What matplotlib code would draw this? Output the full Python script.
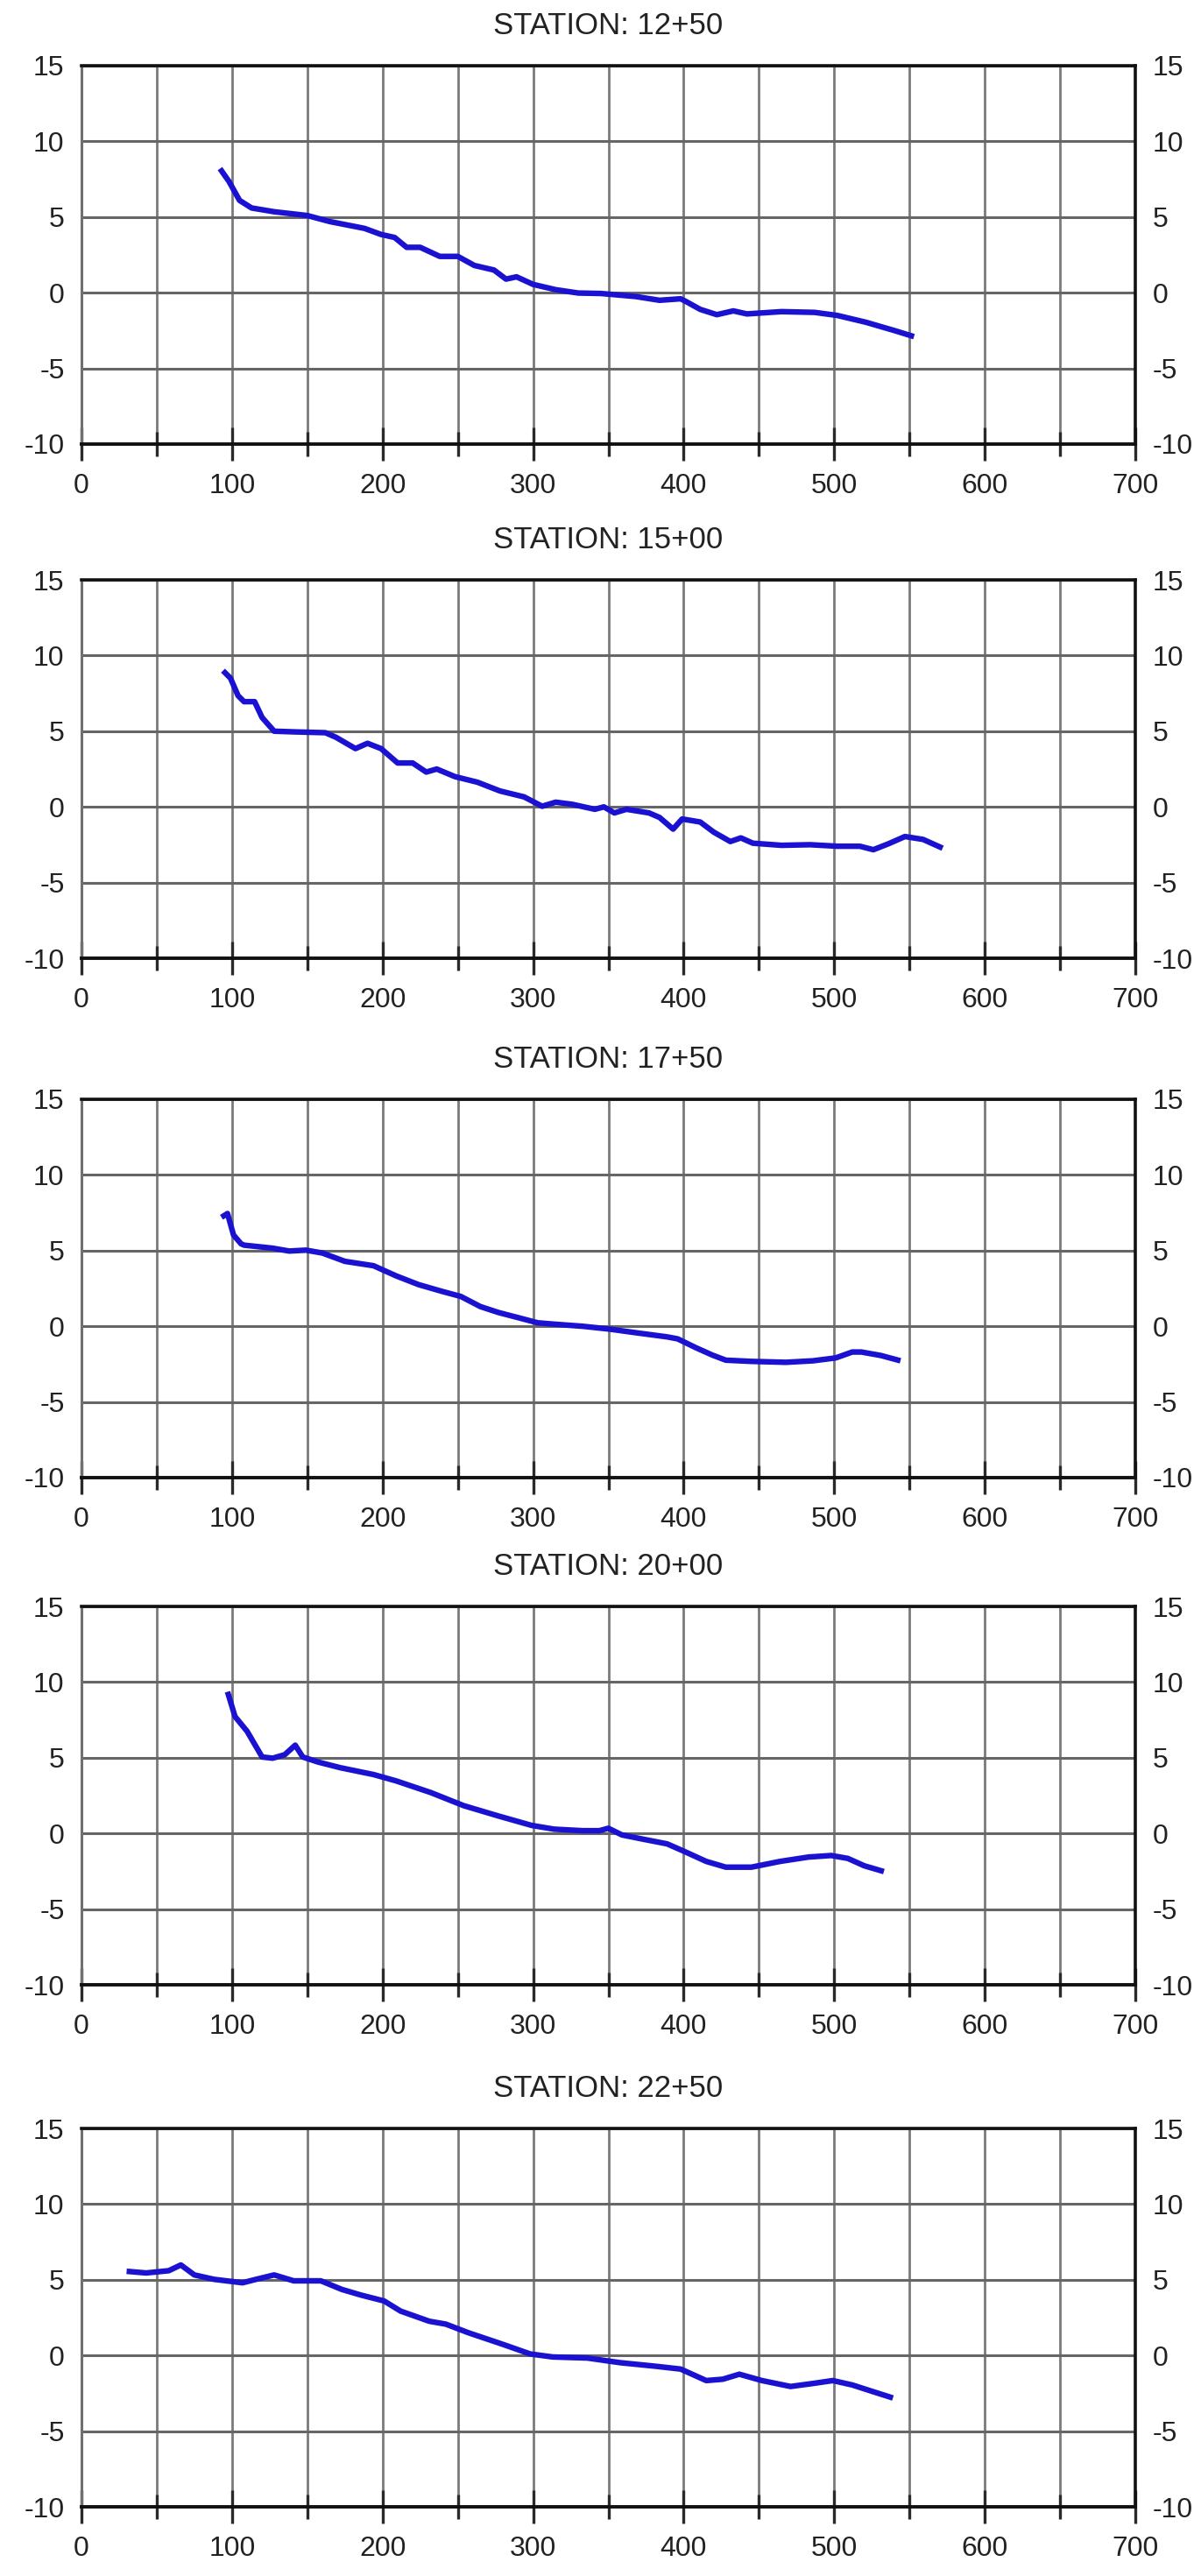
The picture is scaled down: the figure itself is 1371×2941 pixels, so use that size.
import numpy as np
import matplotlib
matplotlib.use("Agg")
import matplotlib.pyplot as plt
from matplotlib.ticker import MultipleLocator

plt.rcParams['font.family'] = ['Liberation Sans', 'DejaVu Sans']
plt.rcParams['axes.unicode_minus'] = False

stations = ["12+50", "15+00", "17+50", "20+00", "22+50"]

x_1250 = [92, 98, 105, 113, 128, 150, 165, 188, 199, 208, 216, 225, 238, 250, 261, 274, 282,
          289, 300, 315, 330, 345, 368, 384, 398, 401, 411, 422, 433, 442, 465, 487, 502, 521, 540, 553]
y_1250 = [8.2, 7.35, 6.1, 5.6, 5.35, 5.1, 4.7, 4.25, 3.85, 3.65, 3.0, 3.0, 2.4, 2.4, 1.8, 1.5, 0.9,
          1.05, 0.55, 0.2, -0.02, -0.05, -0.25, -0.5, -0.4, -0.55, -1.1, -1.45, -1.2, -1.4, -1.25, -1.3,
          -1.5, -1.95, -2.5, -2.9]

x_1500 = [94, 99, 104, 108, 115, 120, 128, 143, 162, 169, 182, 190, 199, 210, 220, 229, 236, 248,
          263, 278, 294, 306, 315, 326, 341, 347, 354, 362, 377, 384, 393, 399, 411, 420, 431, 438,
          446, 465, 484, 502, 517, 526, 536, 547, 559, 572]
y_1500 = [9.0, 8.5, 7.35, 6.95, 6.95, 5.9, 5.0, 4.95, 4.9, 4.6, 3.85, 4.2, 3.85, 2.9, 2.9, 2.3, 2.5,
          2.0, 1.63, 1.05, 0.66, 0.04, 0.31, 0.17, -0.16, 0.0, -0.4, -0.16, -0.4, -0.7, -1.47, -0.8,
          -1.0, -1.67, -2.29, -2.05, -2.4, -2.54, -2.5, -2.6, -2.6, -2.83, -2.44, -1.96, -2.15, -2.73]

x_1750 = [93, 97, 101, 106, 108, 127, 138, 149, 160, 175, 194, 209, 224, 239, 252, 265, 277, 292,
          303, 314, 333, 351, 370, 389, 396, 408, 419, 428, 445, 468, 486, 501, 512, 518, 531, 544]
y_1750 = [7.2, 7.45, 6.03, 5.45, 5.36, 5.16, 4.97, 5.03, 4.84, 4.29, 4.0, 3.33, 2.75, 2.32, 1.97,
          1.3, 0.91, 0.52, 0.23, 0.14, 0.0, -0.19, -0.45, -0.7, -0.83, -1.41, -1.9, -2.24, -2.32,
          -2.38, -2.28, -2.09, -1.7, -1.7, -1.93, -2.28]

x_2000 = [97, 102, 110, 120, 127, 135, 142, 147, 157, 172, 194, 209, 232, 254, 277, 299, 314, 333,
          344, 350, 359, 374, 389, 400, 415, 428, 445, 464, 483, 498, 509, 520, 533]
y_2000 = [9.36, 7.72, 6.75, 5.05, 4.97, 5.2, 5.83, 5.05, 4.72, 4.34, 3.89, 3.47, 2.7, 1.83, 1.15,
          0.53, 0.28, 0.18, 0.18, 0.34, -0.1, -0.4, -0.69, -1.17, -1.85, -2.23, -2.23, -1.85, -1.56,
          -1.46, -1.65, -2.14, -2.52]

x_2250 = [30, 43, 58, 66, 75, 88, 107, 116, 128, 141, 159, 173, 186, 201, 212, 231, 242, 257, 280,
          298, 313, 336, 358, 381, 398, 415, 426, 437, 452, 471, 486, 499, 512, 527, 539]
y_2250 = [5.56, 5.45, 5.6, 5.98, 5.32, 5.03, 4.8, 5.03, 5.32, 4.93, 4.93, 4.36, 3.98, 3.6, 2.93,
          2.26, 2.07, 1.5, 0.73, 0.1, -0.1, -0.17, -0.48, -0.71, -0.9, -1.66, -1.57, -1.24, -1.66,
          -2.05, -1.85, -1.66, -1.95, -2.43, -2.81]

profiles = [(x_1250, y_1250), (x_1500, y_1500), (x_1750, y_1750), (x_2000, y_2000), (x_2250, y_2250)]

W, H = 1371, 2941
fig = plt.figure(figsize=(W / 100, H / 100), dpi=100)

tops = [75, 662, 1255, 1834, 2430]
ax_h = 432

for name, (xs, ys), top in zip(stations, profiles, tops):
    ax = fig.add_axes([93 / W, 1 - (top + ax_h) / H, 1203 / W, ax_h / H])
    ax.set_xlim(0, 700)
    ax.set_ylim(-10, 15)
    ax.xaxis.set_major_locator(MultipleLocator(100))
    ax.xaxis.set_minor_locator(MultipleLocator(50))
    ax.yaxis.set_major_locator(MultipleLocator(5))

    ax.grid(True, which='both', axis='x', color='#7a7a7a', linewidth=2.0)
    ax.grid(True, which='major', axis='y', color='#666666', linewidth=2.2)
    ax.set_axisbelow(True)

    ax.plot(xs, ys, color='#1a12d0', linewidth=4.6, solid_joinstyle='round',
            solid_capstyle='butt')

    ax.tick_params(axis='x', which='major', direction='inout', length=27, width=2.4,
                   color='#2a2a2a', pad=10, labelsize=23, labelcolor='#222222')
    ax.tick_params(axis='x', which='minor', direction='inout', length=20, width=2.4,
                   color='#2a2a2a')
    ax.tick_params(axis='y', which='major', length=0, pad=14, labelsize=23,
                   labelcolor='#222222', labelleft=True, labelright=True)

    ax.spines['left'].set_color('#707070')
    ax.spines['left'].set_linewidth(2.2)
    ax.spines['right'].set_color('#111111')
    ax.spines['right'].set_linewidth(2.6)
    ax.spines['top'].set_color('#111111')
    ax.spines['top'].set_linewidth(2.6)
    ax.spines['bottom'].set_color('#111111')
    ax.spines['bottom'].set_linewidth(2.8)

    ax.set_title("STATION: " + name, fontsize=25, color='#222222', pad=26)

fig.savefig("out.png", dpi=100)
